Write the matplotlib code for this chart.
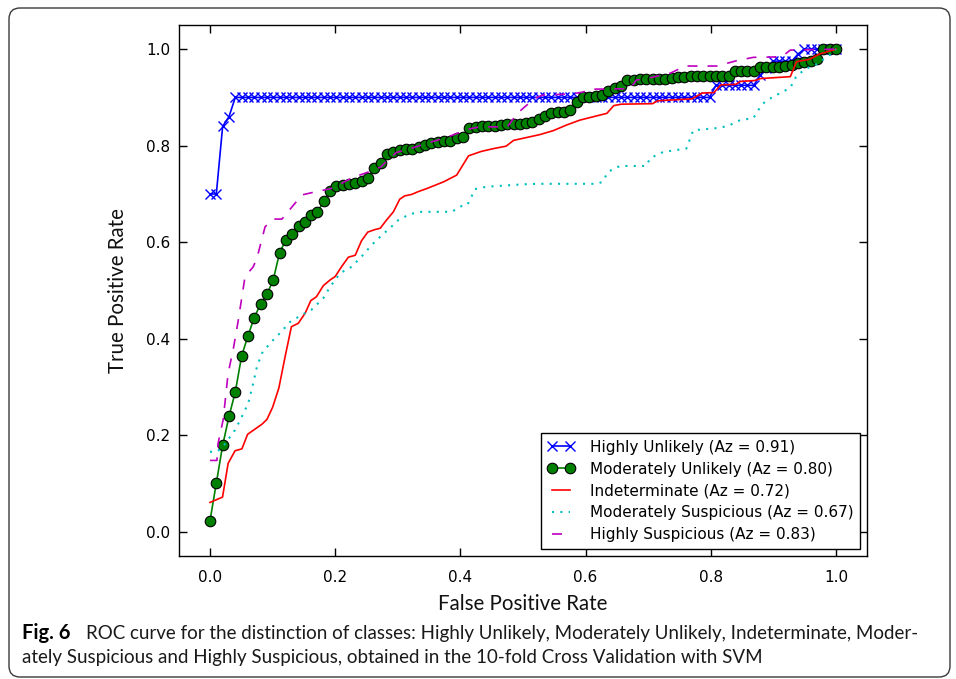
import numpy as np
import matplotlib
matplotlib.use("Agg")
import matplotlib.pyplot as plt
from matplotlib.patches import FancyBboxPatch
from matplotlib.transforms import IdentityTransform

# ---------------- data ----------------
labels = ["Highly Unlikely (Az = 0.91)",
          "Moderately Unlikely (Az = 0.80)",
          "Indeterminate (Az = 0.72)",
          "Moderately Suspicious (Az = 0.67)",
          "Highly Suspicious (Az = 0.83)"]

# common mean-FPR grid used by the marker curves (100 points, 0..1)
fpr_grid = np.linspace(0.0, 1.0, 100)

tpr_highly_unlikely = ([0.70, 0.70, 0.84, 0.86] + [0.90] * 76 + [0.925] * 7 +
                       [0.946, 0.96] + [0.975] * 4 + [0.99] + [1.0] * 6)

tpr_moderately_unlikely = [
    0.023, 0.101, 0.179, 0.239, 0.290, 0.364, 0.406, 0.444, 0.472, 0.492,
    0.522, 0.578, 0.605, 0.618, 0.634, 0.641, 0.657, 0.663, 0.685, 0.706,
    0.716, 0.718, 0.720, 0.722, 0.727, 0.734, 0.754, 0.765, 0.783, 0.786,
    0.792, 0.794, 0.794, 0.797, 0.802, 0.806, 0.808, 0.809, 0.810, 0.815,
    0.818, 0.837, 0.839, 0.840, 0.840, 0.841, 0.842, 0.844, 0.845, 0.845,
    0.846, 0.849, 0.856, 0.862, 0.868, 0.869, 0.869, 0.874, 0.891, 0.901,
    0.901, 0.902, 0.906, 0.914, 0.919, 0.924, 0.936, 0.937, 0.938, 0.938,
    0.938, 0.939, 0.939, 0.940, 0.942, 0.943, 0.944, 0.944, 0.944, 0.944,
    0.945, 0.945, 0.945, 0.954, 0.954, 0.954, 0.954, 0.962, 0.962, 0.962,
    0.962, 0.965, 0.967, 0.972, 0.974, 0.975, 0.979, 1.0, 1.0, 1.0]

fpr_indeterminate = [0.0, 0.02, 0.029, 0.04, 0.051, 0.06, 0.072, 0.083, 0.091, 0.10,
                     0.11, 0.12, 0.13, 0.141, 0.152, 0.161, 0.17, 0.181, 0.192, 0.20,
                     0.21, 0.221, 0.232, 0.242, 0.252, 0.263, 0.272, 0.282, 0.293, 0.303,
                     0.311, 0.322, 0.333, 0.346, 0.373, 0.394, 0.413, 0.433, 0.453, 0.473,
                     0.485, 0.506, 0.527, 0.548, 0.57, 0.591, 0.634, 0.645, 0.657, 0.707,
                     0.715, 0.77, 0.786, 0.805, 0.816, 0.84, 0.847, 0.871, 0.879, 0.927,
                     0.937, 0.958, 0.974, 1.0]
tpr_indeterminate = [0.061, 0.072, 0.142, 0.168, 0.172, 0.202, 0.213, 0.223, 0.233, 0.258,
                     0.298, 0.363, 0.425, 0.432, 0.453, 0.479, 0.487, 0.51, 0.522, 0.529,
                     0.549, 0.569, 0.573, 0.603, 0.621, 0.626, 0.629, 0.646, 0.663, 0.689,
                     0.696, 0.699, 0.705, 0.711, 0.725, 0.739, 0.779, 0.788, 0.794, 0.799,
                     0.811, 0.817, 0.823, 0.831, 0.843, 0.853, 0.867, 0.883, 0.886, 0.887,
                     0.893, 0.897, 0.909, 0.91, 0.926, 0.927, 0.933, 0.935, 0.939, 0.943,
                     0.974, 0.979, 0.99, 1.0]

fpr_mod_suspicious = [0.0, 0.011, 0.021, 0.04, 0.051, 0.061, 0.069, 0.075, 0.083, 0.096,
                      0.109, 0.128, 0.146, 0.162, 0.181, 0.192, 0.208, 0.226, 0.242, 0.258,
                      0.274, 0.288, 0.301, 0.319, 0.335, 0.386, 0.402, 0.411, 0.419, 0.423,
                      0.442, 0.501, 0.522, 0.618, 0.627, 0.636, 0.655, 0.697, 0.703, 0.724,
                      0.761, 0.772, 0.815, 0.831, 0.847, 0.868, 0.876, 0.887, 0.905, 0.927,
                      0.937, 0.953, 0.969, 0.99, 1.0]
tpr_mod_suspicious = [0.166, 0.166, 0.177, 0.211, 0.239, 0.266, 0.308, 0.342, 0.37, 0.391,
                      0.408, 0.435, 0.449, 0.46, 0.484, 0.508, 0.536, 0.549, 0.57, 0.594,
                      0.614, 0.63, 0.646, 0.658, 0.663, 0.663, 0.675, 0.677, 0.698, 0.71,
                      0.715, 0.72, 0.721, 0.721, 0.725, 0.746, 0.758, 0.758, 0.774, 0.787,
                      0.794, 0.832, 0.837, 0.843, 0.853, 0.857, 0.874, 0.892, 0.905, 0.92,
                      0.945, 0.96, 0.969, 0.988, 1.0]

fpr_highly_suspicious = [0.0, 0.011, 0.013, 0.021, 0.029, 0.037, 0.045, 0.056, 0.069, 0.075,
                         0.088, 0.101, 0.115, 0.127, 0.147, 0.167, 0.193, 0.21, 0.23, 0.252,
                         0.273, 0.285, 0.298, 0.325, 0.354, 0.373, 0.394, 0.412, 0.431, 0.475,
                         0.491, 0.506, 0.522, 0.532, 0.575, 0.596, 0.606, 0.671, 0.681, 0.697,
                         0.735, 0.751, 0.759, 0.81, 0.841, 0.868, 0.913, 0.927, 1.0]
tpr_highly_suspicious = [0.148, 0.148, 0.184, 0.232, 0.329, 0.377, 0.437, 0.529, 0.549, 0.567,
                         0.632, 0.648, 0.648, 0.667, 0.698, 0.704, 0.711, 0.722, 0.735, 0.745,
                         0.756, 0.772, 0.786, 0.796, 0.808, 0.815, 0.825, 0.834, 0.839, 0.839,
                         0.867, 0.884, 0.9, 0.905, 0.907, 0.911, 0.917, 0.918, 0.936, 0.939,
                         0.95, 0.96, 0.965, 0.965, 0.976, 0.983, 0.984, 0.998, 1.0]

x_ticks = [0.0, 0.2, 0.4, 0.6, 0.8, 1.0]
y_ticks = [0.0, 0.2, 0.4, 0.6, 0.8, 1.0]

caption_bold = "Fig. 6"
caption_line1 = ("ROC curve for the distinction of classes: Highly Unlikely, Moderately Unlikely, "
                 "Indeterminate, Moder-")
caption_line2 = ("ately Suspicious and Highly Suspicious, obtained in the 10-fold Cross "
                 "Validation with SVM")

# ---------------- figure ----------------
W, H = 956, 679
fig = plt.figure(figsize=(W / 100, H / 100), dpi=100)
fig.patch.set_facecolor("white")


def fx(px):
    return px / W


def fy(py):
    return 1 - py / H


# rounded page frame
frame = FancyBboxPatch((9, H - 677), 941, 669,
                       boxstyle="round,pad=0,rounding_size=11",
                       transform=IdentityTransform(), fill=False,
                       edgecolor="#3a3a3a", linewidth=1.0)
fig.patches.append(frame)

ax = fig.add_axes([fx(178.7), fy(556), fx(867.3) - fx(178.7), fy(25) - fy(556)])

ax.plot(fpr_grid, tpr_highly_unlikely, color="b", marker="x", markersize=7,
        markeredgewidth=1.0, linewidth=1.2, label=labels[0])
ax.plot(fpr_grid, tpr_moderately_unlikely, color="g", marker="o", markersize=7.6,
        markerfacecolor="g", markeredgecolor="k", markeredgewidth=0.8,
        linewidth=1.2, label=labels[1])
ax.plot(fpr_indeterminate, tpr_indeterminate, color="r", linewidth=1.2, label=labels[2])
ax.plot(fpr_mod_suspicious, tpr_mod_suspicious, color="c", linewidth=1.5,
        linestyle=(0, (1, 3)), label=labels[3])
ax.plot(fpr_highly_suspicious, tpr_highly_suspicious, color="m", linewidth=1.2,
        linestyle=(0, (6, 6)), label=labels[4])

ax.set_xlim(-0.05, 1.05)
ax.set_ylim(-0.05, 1.05)
ax.set_xticks(x_ticks)
ax.set_yticks(y_ticks)
ax.set_xticklabels([f"{v:.1f}" for v in x_ticks])
ax.set_yticklabels([f"{v:.1f}" for v in y_ticks])
for s in ax.spines.values():
    s.set_linewidth(1.0)
    s.set_color("black")
ax.tick_params(direction="in", top=True, right=True, length=6, width=1,
               labelsize=11, colors="black")
ax.tick_params(axis="x", pad=10)
ax.tick_params(axis="y", pad=6)

leg = ax.legend(loc="lower right", fontsize=11, numpoints=2, handlelength=1.75,
                handletextpad=1.0, borderpad=0.45, labelspacing=0.45,
                borderaxespad=0.45, fancybox=False, framealpha=1.0,
                edgecolor="black")
leg.get_frame().set_linewidth(1.0)

lab_font = "Lato"
fig.text(fx(523), fy(604), "False Positive Rate", family=lab_font, fontsize=14.8,
         ha="center", va="center", color="#111111")
fig.text(fx(118), fy(291), "True Positive Rate", family=lab_font, fontsize=14.8,
         ha="center", va="center", rotation=90, color="#111111")

fig.text(fx(22), fy(633), caption_bold, family=lab_font, fontweight="bold",
         fontsize=14.5, ha="left", va="center", color="black")
fig.text(fx(86), fy(633), caption_line1, family=lab_font, fontsize=13.5,
         ha="left", va="center", color="#1a1a1a")
fig.text(fx(22), fy(657), caption_line2, family=lab_font, fontsize=13.5,
         ha="left", va="center", color="#1a1a1a")

fig.savefig("out.png", dpi=100, facecolor="white")
